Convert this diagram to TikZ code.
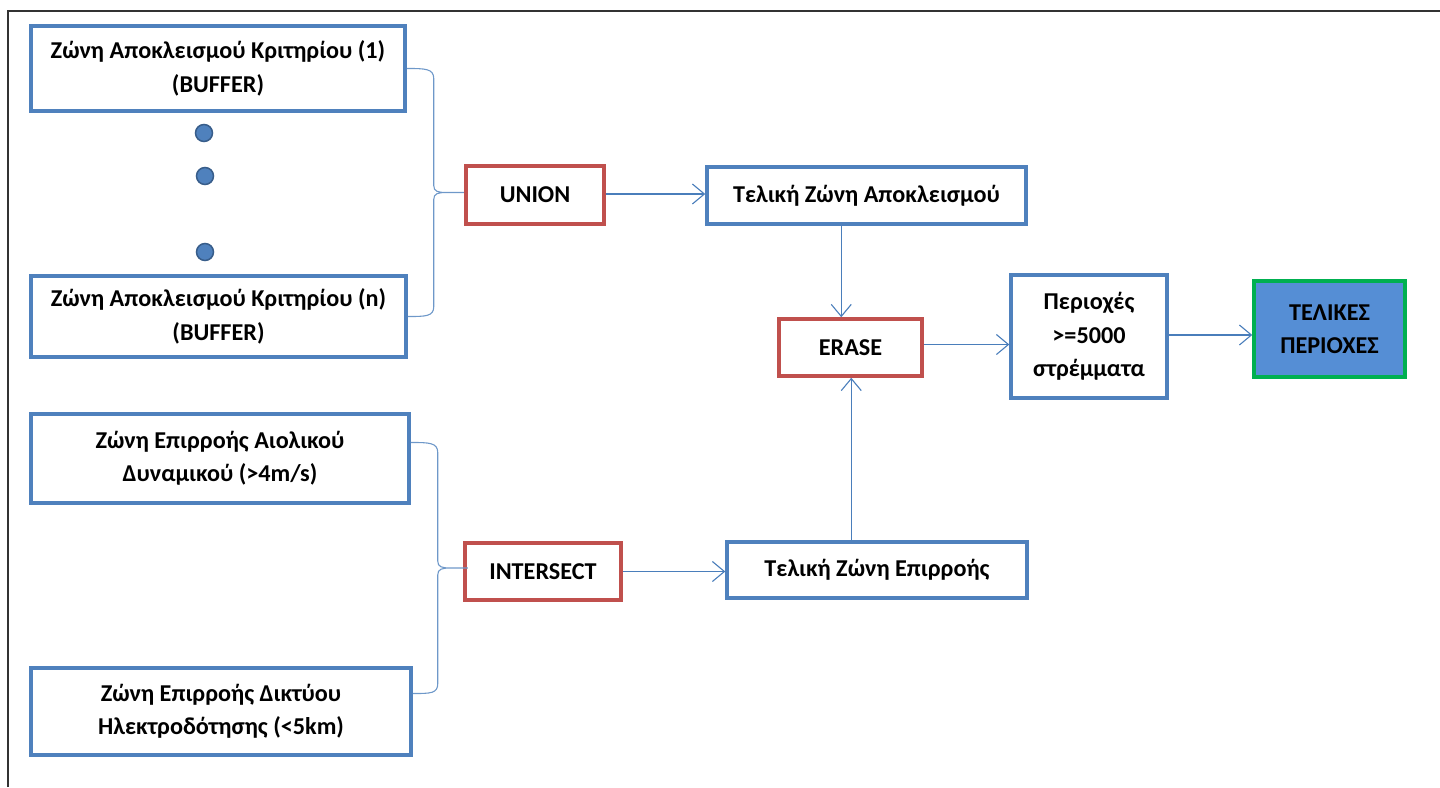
\documentclass[tikz,border=0pt]{standalone}
\usepackage{fontspec}
\setmainfont{Carlito}
\usetikzlibrary{arrows.meta,calc}
\definecolor{boxblue}{HTML}{4F81BD}
\definecolor{boxred}{HTML}{C0504D}
\definecolor{linkblue}{HTML}{4A7EBB}
\definecolor{finalgreen}{HTML}{00B050}
\definecolor{finalfill}{HTML}{558ED5}
\definecolor{dotborder}{HTML}{385D8A}
\definecolor{framegray}{HTML}{333333}
\tikzset{
  base/.style={draw, line width=3.5pt, rectangle, align=center, inner sep=0pt,
    font=\fontsize{24.2}{33.5}\selectfont\bfseries, text=black},
  bluebox/.style={base, draw=boxblue, fill=white},
  redbox/.style={base, draw=boxred, fill=white},
  finalbox/.style={base, draw=finalgreen, fill=finalfill},
  link/.style={draw=linkblue, line width=1.1pt, -{Straight Barb[length=12pt,width=20pt]}},
  bracelink/.style={draw=linkblue!80, line width=1.1pt,
    to path={let \p1=(\tikztostart), \p2=(\tikztotarget),
      \p3=($(\tikztostart)!.5!(\tikztotarget)$) in
      .. controls (\x1+18pt,\y1) and (\x1+27pt,\y1) .. (\x1+27pt,\y1-10pt)
      -- (\x1+27pt,\y3+7pt)
      .. controls (\x1+27pt,\y3+1pt) and (\x1+31pt,\y3) .. (\x1+40pt,\y3)
      -- (\x1+57pt,\y3)
      (\x1+40pt,\y3)
      .. controls (\x1+31pt,\y3) and (\x1+27pt,\y3-1pt) .. (\x1+27pt,\y3-7pt)
      -- (\x1+27pt,\y2+10pt)
      .. controls (\x1+27pt,\y2) and (\x2+18pt,\y2) .. (\tikztotarget)}},
  ell/.style={circle, draw=dotborder, line width=1.5pt, fill=boxblue, minimum size=17pt, inner sep=0pt}
}
\begin{document}
\begin{tikzpicture}[x=1pt,y=-1pt]
\useasboundingbox (0,0) rectangle (1440,787);
\draw[framegray, line width=2pt] (8,787) -- (8,11) -- (1440,11);

\node[bluebox, minimum width=374pt, minimum height=85pt] (a1) at (218,68.5)
  {Ζώνη Αποκλεισμού Κριτηρίου (1)\\(BUFFER)};
\node[bluebox, minimum width=375pt, minimum height=81pt] (an) at (218.5,316.5)
  {Ζώνη Αποκλεισμού Κριτηρίου (n)\\(BUFFER)};
\node[ell] (d1) at (204,133) {};
\node[ell] (d2) at (205,176) {};
\node[ell] (d3) at (205,252) {};

\node[bluebox, minimum width=378pt, minimum height=89pt] (b1) at (220,458.5)
  {Ζώνη Επιρροής Αιολικού\\Δυναμικού (>4m/s)};
\node[bluebox, minimum width=380pt, minimum height=87pt] (b2) at (221,711.5)
  {Ζώνη Επιρροής Δικτύου\\Ηλεκτροδότησης (<5km)};

\node[redbox, minimum width=138pt, minimum height=58pt] (union) at (535,195) {UNION};
\node[redbox, minimum width=156pt, minimum height=57pt] (inter) at (543,571.5) {INTERSECT};

\node[bluebox, minimum width=319pt, minimum height=57pt] (tza) at (866.5,195.5) {Τελική Ζώνη Αποκλεισμού};
\node[bluebox, minimum width=300pt, minimum height=56pt] (tze) at (877,570) {Τελική Ζώνη Επιρροής};

\node[redbox, minimum width=143pt, minimum height=57pt] (erase) at (850.5,347.5) {ERASE};
\node[bluebox, minimum width=156pt, minimum height=123pt] (per) at (1089,336.5) {Περιοχές\\>=5000\\στρέμματα};
\node[finalbox, minimum width=151pt, minimum height=96pt] (fin) at (1329.5,329) {ΤΕΛΙΚΕΣ\\ΠΕΡΙΟΧΕΣ};

% braces
\coordinate (br1s) at (a1.east);
\coordinate (br1e) at (an.east);
\draw[bracelink] (br1s) to (br1e);
\coordinate (br2s) at ($(b1.east)+(0,-16)$);
\coordinate (br2e) at ($(b2.east)+(0,-18)$);
\draw[bracelink] (br2s) to (br2e);

% arrows
\draw[link] (tza.south -| erase.north west) ++(64,0) coordinate (t1) -- (t1 |- erase.north);
\draw[link] (tze.north -| erase.south west) ++(74,0) coordinate (t2) -- (t2 |- erase.south);
\draw[link] (union.east) ++(0,-1) coordinate (t4) -- (t4 -| tza.west);
\draw[link] (inter.east) -- (inter.east -| tze.west);
\draw[link] (erase.east) ++(0,-3) coordinate (t5) -- (t5 -| per.west);
\draw[link] (per.east |- fin.west) ++(0,6) coordinate (t3) -- (t3 -| fin.west);
\end{tikzpicture}
\end{document}
